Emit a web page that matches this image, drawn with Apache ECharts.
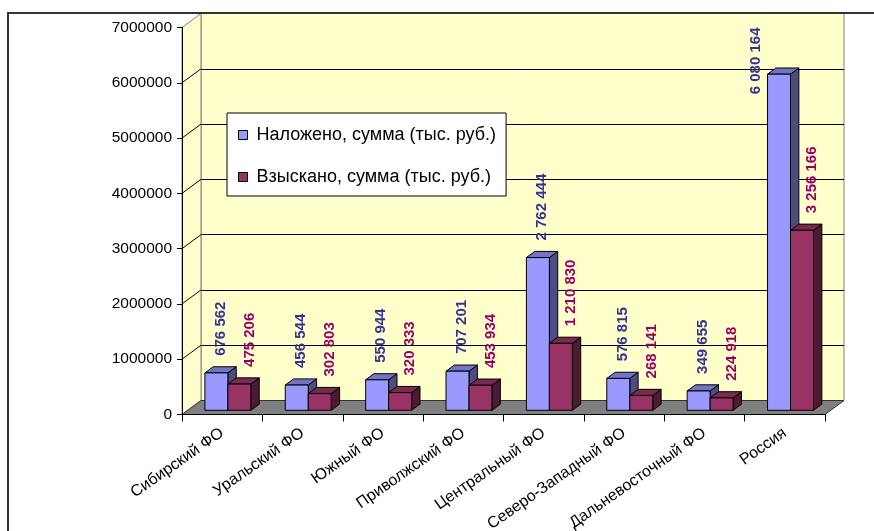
<!DOCTYPE html>
<html>
<head>
<meta charset="utf-8">
<script src="https://cdn.jsdelivr.net/npm/echarts@6/dist/echarts.min.js"></script>
<style>
  html, body { margin: 0; padding: 0; background: #fff; }
  #chart { width: 874px; height: 531px; }
</style>
</head>
<body>
<div id="chart"></div>
<script>
// данные
var regions = ['Сибирский ФО', 'Уральский ФО', 'Южный ФО', 'Приволжский ФО',
  'Центральный ФО', 'Северо-Западный ФО', 'Дальневосточный ФО', 'Россия'];
var imposed = [676562, 456544, 550944, 707201, 2762444, 576815, 349655, 6080164];
var collected = [475206, 302803, 320333, 453934, 1210830, 268141, 224918, 3256166];
var yTicks = [0, 1000000, 2000000, 3000000, 4000000, 5000000, 6000000, 7000000];
var seriesNames = ['Наложено, сумма (тыс. руб.)', 'Взыскано, сумма (тыс. руб.)'];

var FONT = 'Arial, "Liberation Sans", sans-serif';
var DX = 19, DY = -14;          // глубина "3D" коробки
var BAR_FRONT = 0.3, BAR_BACK = 0.74;
var BAR_W = 0.286;              // доля ширины категории
var LABEL_GAP = 14;

var measureCtx = document.createElement('canvas').getContext('2d');
function textLen(t, font) {
  measureCtx.font = font;
  return measureCtx.measureText(t).width;
}
function fmt(v) {
  return String(v).replace(/\B(?=(\d{3})+(?!\d))/g, ' ');
}

function barRender(idx, colors, labelColor, labelShift) {
  return function (params, api) {
    var cs = params.coordSys;
    var cat = api.value(0), val = api.value(1);
    var base = api.coord([cat, 0]);
    var top = api.coord([cat, val]);
    var w = api.size([1, 0])[0] * BAR_W;
    var ox = BAR_FRONT * DX, oy = BAR_FRONT * DY;
    var bx = (BAR_BACK - BAR_FRONT) * DX, by = (BAR_BACK - BAR_FRONT) * DY;
    var x0 = base[0] - w + idx * w + ox, x1 = x0 + w;
    var yt = top[1] + oy, yb = base[1] + oy;
    var edge = { stroke: '#000', lineWidth: 1 };
    var font = 'bold 15px ' + FONT;
    var text = fmt(val);
    var len = textLen(text, font);
    var tx = x0 + w / 2 + bx / 2 + labelShift;
    var ty = yt + by / 2 - LABEL_GAP;
    if (ty - len < cs.y) {
      ty = cs.y + len;
      tx = x0 - 12;
    }
    return {
      type: 'group',
      children: [
        { type: 'polygon', shape: { points: [[x1, yt], [x1 + bx, yt + by], [x1 + bx, yb + by], [x1, yb]] },
          style: Object.assign({ fill: colors[2] }, edge) },
        { type: 'polygon', shape: { points: [[x0, yt], [x1, yt], [x1 + bx, yt + by], [x0 + bx, yt + by]] },
          style: Object.assign({ fill: colors[1] }, edge) },
        { type: 'rect', shape: { x: x0, y: yt, width: w, height: yb - yt },
          style: Object.assign({ fill: colors[0] }, edge) },
        { type: 'text', x: tx, y: ty, rotation: Math.PI / 2, z2: 10,
          style: { text: text, fill: labelColor, font: font, align: 'left', verticalAlign: 'middle' } }
      ]
    };
  };
}

var chart = echarts.init(document.getElementById('chart'));
chart.setOption({
  animation: false,
  legend: {
    data: seriesNames,
    orient: 'vertical',
    left: 227, top: 113,
    backgroundColor: '#fff',
    borderColor: '#000', borderWidth: 1, borderRadius: 0,
    padding: [13, 10, 10, 11],
    itemGap: 24,
    icon: 'rect', itemWidth: 9, itemHeight: 9,
    itemStyle: { borderColor: '#000', borderWidth: 1 },
    textStyle: { fontFamily: FONT, fontSize: 18, color: '#000', padding: [0, 0, 0, 4] },
    z: 20
  },
  graphic: [{
    type: 'rect', shape: { x: 8, y: 13, width: 900, height: 600 },
    style: { fill: null, stroke: '#333', lineWidth: 2 }, z: 30, silent: true
  }],
  grid: [
    { left: 182, right: 49, top: 27.5, bottom: 116.5, show: false,
      containLabel: false, outerBoundsMode: 'none' },
    { left: 201, right: 30, top: 13.5, bottom: 130.5, show: true,
      containLabel: false, outerBoundsMode: 'none',
      backgroundColor: '#FFFFCC', borderColor: '#808080', borderWidth: 1 }
  ],
  xAxis: [
    { gridIndex: 0, type: 'category', data: regions, boundaryGap: true, z: 10,
      axisLine: { lineStyle: { color: '#000', width: 1 } },
      axisTick: { show: true, length: 7, lineStyle: { color: '#000' } },
      axisLabel: { rotate: 35, margin: 17, fontFamily: FONT, fontSize: 16, color: '#000', interval: 0 } },
    { gridIndex: 1, type: 'category', data: regions, show: false }
  ],
  yAxis: [
    { gridIndex: 0, type: 'value', min: 0, max: 7000000, interval: 1000000, z: 10,
      axisLine: { show: true, lineStyle: { color: '#000', width: 1 } },
      axisTick: { show: true, length: 5, lineStyle: { color: '#000' } },
      splitLine: { show: false },
      axisLabel: { margin: 10, fontFamily: FONT, fontSize: 15.5, color: '#000',
        formatter: function (v) { return String(v); } } },
    { gridIndex: 1, type: 'value', min: 0, max: 7000000, interval: 1000000,
      axisLine: { show: false }, axisTick: { show: false }, axisLabel: { show: false },
      splitLine: { show: true, lineStyle: { color: '#000', width: 1 } } }
  ],
  series: [
    { // боковая стенка и пол
      type: 'custom', xAxisIndex: 0, yAxisIndex: 0, z: 1, silent: true,
      data: [0],
      renderItem: function (params, api) {
        var cs = params.coordSys;
        var l = cs.x, r = cs.x + cs.width, t = cs.y, b = cs.y + cs.height;
        return {
          type: 'group',
          children: [
            { type: 'polygon', shape: { points: [[l, b], [l + DX, b + DY], [l + DX, t + DY], [l, t]] },
              style: { fill: '#FFFFCC', stroke: '#808080', lineWidth: 1 } },
            { type: 'polygon', shape: { points: [[l, b], [r, b], [r + DX, b + DY], [l + DX, b + DY]] },
              style: { fill: '#808080', stroke: '#333', lineWidth: 1 } }
          ]
        };
      }
    },
    { // диагонали сетки на боковой стенке
      type: 'custom', xAxisIndex: 0, yAxisIndex: 0, z: 1, silent: true,
      data: yTicks.slice(1, -1),
      encode: { y: 0 },
      renderItem: function (params, api) {
        var cs = params.coordSys;
        var y = api.coord([0, api.value(0)])[1];
        return { type: 'line', shape: { x1: cs.x, y1: y, x2: cs.x + DX, y2: y + DY },
          style: { stroke: '#000', lineWidth: 1 } };
      }
    },
    {
      name: seriesNames[0], type: 'custom', xAxisIndex: 0, yAxisIndex: 0, z: 3,
      itemStyle: { color: '#9999FF' },
      data: imposed.map(function (v, i) { return [i, v]; }),
      renderItem: barRender(0, ['#9999FF', '#7373C7', '#4D4D80'], '#333399', 0)
    },
    {
      name: seriesNames[1], type: 'custom', xAxisIndex: 0, yAxisIndex: 0, z: 3,
      itemStyle: { color: '#993366' },
      data: collected.map(function (v, i) { return [i, v]; }),
      renderItem: barRender(1, ['#993366', '#7A2952', '#4D1A33'], '#990066', 6)
    }
  ]
});
</script>
</body>
</html>
